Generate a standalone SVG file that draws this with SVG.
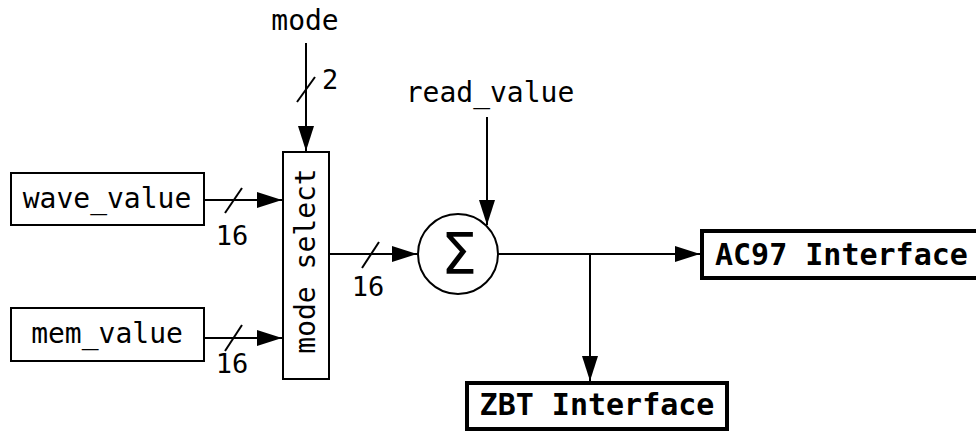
<svg xmlns="http://www.w3.org/2000/svg" width="976" height="431" viewBox="0 0 976 431">
<style>
.lbl{font-family:"DejaVu Sans Mono","Liberation Mono",monospace;font-size:28px;fill:#000}
.num{font-family:"DejaVu Sans Mono","Liberation Mono",monospace;font-size:27px;fill:#000}
.bold{font-family:"DejaVu Sans Mono","Liberation Mono",monospace;font-size:30px;font-weight:bold;fill:#000}
.box{fill:#fff;stroke:#000;stroke-width:2}
.obox{fill:#fff;stroke:#000;stroke-width:4}
.wire{fill:none;stroke:#000;stroke-width:2}
</style>
<defs>
<marker id="arr" markerUnits="userSpaceOnUse" markerWidth="26" markerHeight="16" refX="25" refY="8" orient="auto">
<path d="M0,0 L25,8 L0,16 Z" fill="#000"/>
</marker>
</defs>
<rect width="976" height="431" fill="#fff"/>
<g id="connectors">
<path class="wire" d="M306,43 V151" marker-end="url(#arr)"/>
<path class="wire" d="M297,102 L315,77"/>
<path class="wire" d="M204,200 H282" marker-end="url(#arr)"/>
<path class="wire" d="M225,213 L242,188"/>
<path class="wire" d="M204,338 H282" marker-end="url(#arr)"/>
<path class="wire" d="M225,351 L242,325"/>
<path class="wire" d="M329,254 H417" marker-end="url(#arr)"/>
<path class="wire" d="M362,268 L379,242"/>
<path class="wire" d="M487,117 V225" marker-end="url(#arr)"/>
<path class="wire" d="M498,254 H700" marker-end="url(#arr)"/>
<path class="wire" d="M590,254 V381" marker-end="url(#arr)"/>
<text class="num" x="322" y="89">2</text>
<text class="num" x="232" y="245" text-anchor="middle">16</text>
<text class="num" x="232" y="373" text-anchor="middle">16</text>
<text class="num" x="368" y="296" text-anchor="middle">16</text>
</g>
<g id="mode">
<text class="lbl" x="305" y="30" text-anchor="middle">mode</text>
</g>
<g id="read_value">
<text class="lbl" x="490" y="102" text-anchor="middle">read_value</text>
</g>
<g id="wave_value">
<rect class="box" x="11" y="173" width="193" height="52"/>
<text class="lbl" x="107" y="208" text-anchor="middle">wave_value</text>
</g>
<g id="mem_value">
<rect class="box" x="11" y="308" width="193" height="53"/>
<text class="lbl" x="107" y="343" text-anchor="middle">mem_value</text>
</g>
<g id="mode_select">
<rect class="box" x="283" y="152" width="46" height="227"/>
<text class="lbl" transform="translate(315,261) rotate(-90)" text-anchor="middle">mode select</text>
</g>
<g id="sum">
<circle class="box" cx="458" cy="254" r="40"/>
<text x="459" y="274" text-anchor="middle" style="font-family:'DejaVu Sans',sans-serif;font-size:57px">Σ</text>
</g>
<g id="ac97">
<rect class="obox" x="702" y="231" width="290" height="47"/>
<text class="bold" x="715" y="265">AC97 Interface</text>
</g>
<g id="zbt">
<rect class="obox" x="467" y="383" width="260" height="46"/>
<text class="bold" x="597" y="415" text-anchor="middle">ZBT Interface</text>
</g>
</svg>
